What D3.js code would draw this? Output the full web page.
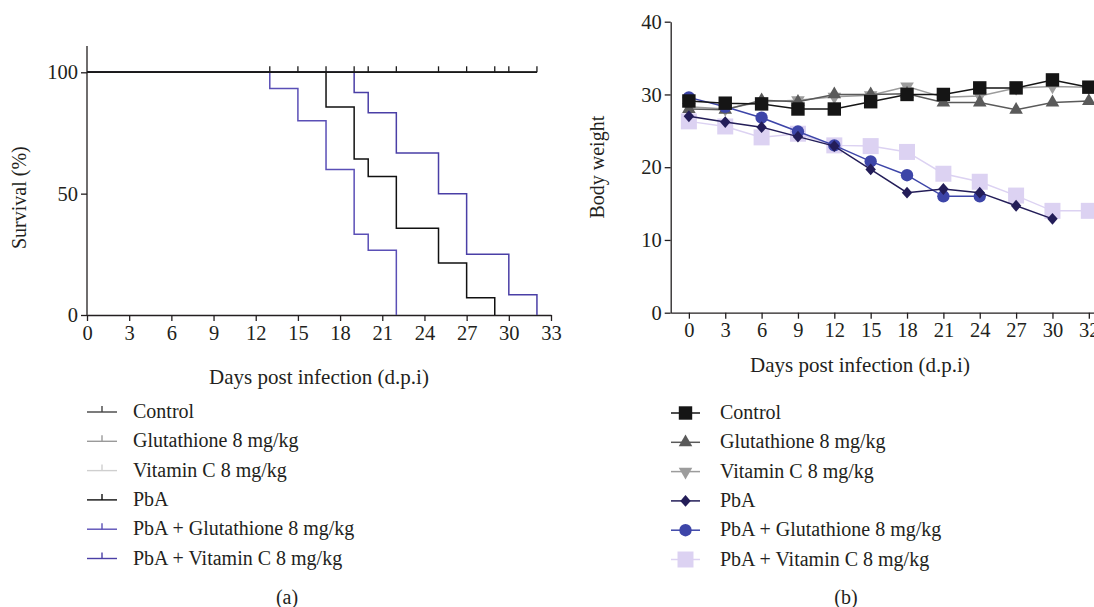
<!DOCTYPE html>
<html><head><meta charset="utf-8">
<script src="https://cdn.jsdelivr.net/npm/d3@7"></script>
<style>
body{margin:0;background:#fff;}
text{font-family:"Liberation Serif","Times New Roman",serif;fill:#231f20;}
</style></head>
<body>
<svg id="c" width="1094" height="607"></svg>
<script>
// ---------- DATA ----------
const groupNames = ["Control","Glutathione 8 mg/kg","Vitamin C 8 mg/kg","PbA","PbA + Glutathione 8 mg/kg","PbA + Vitamin C 8 mg/kg"];
const survTicks = [0,3,6,9,12,15,18,21,24,27,30,33];
const survYTicks = [0,50,100];
// Kaplan–Meier steps (day, % survival)
const controlSurvDays = [0,32];
const controlSurvVals = [100,100];
const censorDays = [13,15,17,19,20,22,25,27,29,30,32];
const pbaSurvDays = [0,17,19,20,22,25,27,29];
const pbaSurvVals = [100,85.7,64.3,57.1,35.7,21.4,7.1,0];
const pbaGlutSurvDays = [0,13,15,17,19,20,22];
const pbaGlutSurvVals = [100,93.3,80,60,33.3,26.7,0];
const pbaVitCSurvDays = [0,19,20,22,25,27,30,32];
const pbaVitCSurvVals = [100,91.7,83.3,66.7,50,25,8.3,0];

const bwDays = ["0","3","6","9","12","15","18","21","24","27","30","32"];
const bwYTicks = [0,10,20,30,40];
const bwControl = [29.1,28.8,28.7,28.0,28.0,29.0,30.0,30.0,30.9,30.9,32.0,31.0];
const bwGlut    = [28.0,27.9,29.2,29.0,30.0,30.0,30.1,28.9,28.9,27.9,28.9,29.1];
const bwVitC    = [28.3,28.0,29.0,29.2,29.7,29.9,31.1,29.6,29.8,30.9,31.1,31.0];
const bwPbA     = [27.0,26.2,25.5,24.2,22.9,19.7,16.5,17.0,16.5,14.7,12.9,null];
const bwPbAGlut = [29.6,28.3,26.8,24.9,23.0,20.8,18.9,16.0,16.0,null,null,null];
const bwPbAVitC = [26.3,25.6,24.1,24.6,23.0,22.9,22.1,19.1,18.0,16.1,14.0,14.0];

// ---------- STYLE ----------
const survColors = ["#444","#9a9a9a","#cfcfcf","#111","#5a4fb6","#4a3fa6"];
const bwColors = ["#151515","#5a5a5a","#9c9c9c","#231d58","#3d45a8","#dcd2f2"];
const FS = 20;
const TFS = 20.5;
const axisColor = "#231f20";

const svg = d3.select("#c");

function styleAxis(g){
  g.selectAll("path,line").attr("stroke",axisColor).attr("stroke-width",1.3);
  g.selectAll("text").attr("font-size",TFS).attr("font-family","Liberation Serif, serif").attr("fill","#231f20");
}

// custom near-square diamond
const symDiamond = {draw(ctx,size){const r=Math.sqrt(size/2);ctx.moveTo(0,-r*1.08);ctx.lineTo(r*0.95,0);ctx.lineTo(0,r*1.08);ctx.lineTo(-r*0.95,0);ctx.closePath();}};

// ---------- PANEL A ----------
const ax = d3.scaleLinear().domain([0,33]).range([87,551]);
const ay = d3.scaleLinear().domain([0,100]).range([315,72.3]);
const A = svg.append("g");

A.append("line").attr("x1",ax(0)).attr("x2",ax(0)).attr("y1",ay(0)).attr("y2",46)
  .attr("stroke",axisColor).attr("stroke-width",1.3);
const axB = A.append("g").attr("transform",`translate(0,${ay(0)})`)
  .call(d3.axisBottom(ax).tickValues(survTicks).tickSize(6).tickSizeOuter(0).tickPadding(4));
styleAxis(axB);
const axL = A.append("g").attr("transform",`translate(${ax(0)},0)`)
  .call(d3.axisLeft(ay).tickValues(survYTicks).tickSize(6).tickSizeOuter(0).tickPadding(3));
axL.select(".domain").remove();
styleAxis(axL);

const stepLine = d3.line().x(d=>ax(d[0])).y(d=>ay(d[1])).curve(d3.curveStepAfter);
const survSets = [
  [pbaGlutSurvDays,pbaGlutSurvVals,4],
  [pbaVitCSurvDays,pbaVitCSurvVals,5],
  [pbaSurvDays,pbaSurvVals,3],
  [controlSurvDays,controlSurvVals,2],
  [controlSurvDays,controlSurvVals,1],
  [controlSurvDays,controlSurvVals,0]
];
survSets.forEach(([d,v,i])=>{
  A.append("path").datum(d.map((t,k)=>[t,v[k]]))
   .attr("d",stepLine).attr("fill","none")
   .attr("stroke", i<3 ? "#1a1a1a" : survColors[i]).attr("stroke-width",1.5);
});
A.selectAll(".cens").data(censorDays).enter().append("line")
  .attr("x1",d=>ax(d)).attr("x2",d=>ax(d)).attr("y1",ay(100)).attr("y2",ay(100)-6)
  .attr("stroke","#1a1a1a").attr("stroke-width",1.3);

A.append("text").attr("transform",`translate(26,${(ay(0)+ay(100))/2+4}) rotate(-90)`)
  .attr("text-anchor","middle").attr("font-size",FS).text("Survival (%)");
A.append("text").attr("x",(ax(0)+ax(33))/2).attr("y",384).attr("text-anchor","middle")
  .attr("font-size",FS+1).text("Days post infection (d.p.i)");

// legend A
const legY0 = 412, legDy = 29.3;
groupNames.forEach((n,i)=>{
  const y = legY0 + i*legDy;
  A.append("line").attr("x1",87).attr("x2",117).attr("y1",y).attr("y2",y)
    .attr("stroke",survColors[i]).attr("stroke-width",1.4);
  A.append("line").attr("x1",102).attr("x2",102).attr("y1",y).attr("y2",y-6)
    .attr("stroke",survColors[i]).attr("stroke-width",1.4);
  A.append("text").attr("x",133).attr("y",y+6).attr("font-size",FS).text(n);
});
A.append("text").attr("x",287).attr("y",604).attr("text-anchor","middle").attr("font-size",FS).text("(a)");

// ---------- PANEL B ----------
const bx = d3.scalePoint().domain(bwDays).range([670.7,1107]).padding(0.5);
const by = d3.scaleLinear().domain([0,40]).range([312.7,21.7]);
const B = svg.append("g");

const bxAx = B.append("g").attr("transform",`translate(0,${by(0)})`)
  .call(d3.axisBottom(bx).tickSize(6).tickSizeOuter(0).tickPadding(4));
styleAxis(bxAx);
const byAx = B.append("g").attr("transform",`translate(670.7,0)`)
  .call(d3.axisLeft(by).tickValues(bwYTicks).tickSize(6).tickSizeOuter(0).tickPadding(3));
styleAxis(byAx);

const series = [
  [bwPbAVitC,5,d3.symbolSquare,256,0],
  [bwVitC,2,d3.symbolTriangle,80,180],
  [bwGlut,1,d3.symbolTriangle,80,0],
  [bwPbAGlut,4,d3.symbolCircle,120,0],
  [bwPbA,3,symDiamond,60,0],
  [bwControl,0,d3.symbolSquare,180,0]
];
const lineB = d3.line().defined(d=>d.v!=null).x(d=>bx(d.x)).y(d=>by(d.v));
series.forEach(([vals,i,sym,size,rot])=>{
  const pts = bwDays.map((x,k)=>({x:x,v:vals[k]}));
  B.append("path").datum(pts).attr("d",lineB).attr("fill","none")
    .attr("stroke",bwColors[i]).attr("stroke-width",1.5);
  B.selectAll(null).data(pts.filter(d=>d.v!=null)).enter().append("path")
    .attr("d",d3.symbol().type(sym).size(size))
    .attr("transform",d=>`translate(${bx(d.x)},${by(d.v)}) rotate(${rot})`)
    .attr("fill",bwColors[i]);
});

B.append("text").attr("transform",`translate(604,${(by(0)+by(40))/2}) rotate(-90)`)
  .attr("text-anchor","middle").attr("font-size",FS).text("Body weight");
B.append("text").attr("x",860).attr("y",372).attr("text-anchor","middle")
  .attr("font-size",FS+1).text("Days post infection (d.p.i)");

// legend B
const legSyms = [[d3.symbolSquare,180,0],[d3.symbolTriangle,80,0],[d3.symbolTriangle,80,180],[symDiamond,60,0],[d3.symbolCircle,120,0],[d3.symbolSquare,256,0]];
groupNames.forEach((n,i)=>{
  const y = legY0 + 1 + i*legDy;
  B.append("line").attr("x1",671).attr("x2",700).attr("y1",y).attr("y2",y)
    .attr("stroke",bwColors[i]).attr("stroke-width",1.5);
  B.append("path").attr("d",d3.symbol().type(legSyms[i][0]).size(legSyms[i][1]))
    .attr("transform",`translate(685.5,${y}) rotate(${legSyms[i][2]})`).attr("fill",bwColors[i]);
  B.append("text").attr("x",720).attr("y",y+6).attr("font-size",FS).text(n);
});
B.append("text").attr("x",846).attr("y",604).attr("text-anchor","middle").attr("font-size",FS).text("(b)");
</script>
</body></html>
